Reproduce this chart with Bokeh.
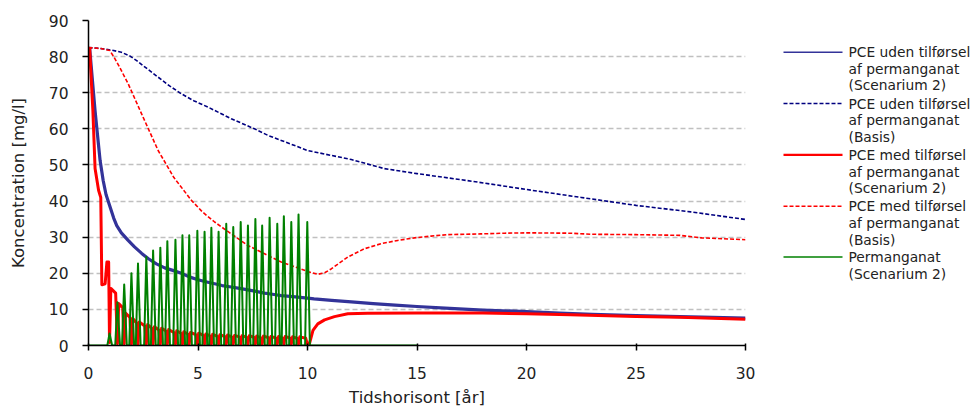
from bokeh.plotting import figure
from bokeh.models import Range1d, SingleIntervalTicker, ColumnDataSource
from bokeh.layouts import row
from bokeh.embed import file_html
from bokeh.resources import INLINE
from bokeh.core.properties import value

# ---------------- data ----------------
# PCE uden tilførsel af permanganat (Scenarium 2) - blue solid
blue_t = [0.05, 0.3, 0.53, 0.67, 0.8, 0.99, 1.15, 1.29, 1.5, 1.8, 2.1, 2.43, 2.72, 3.1, 3.48,
          3.85, 4.24, 4.6, 5.0, 5.4, 5.76, 6.1, 6.52, 6.9, 7.28, 7.65, 8.03, 8.4, 8.8,
          9.2, 9.56, 10.0, 10.3, 11.1, 12.0, 13.0, 14.0, 15.0, 16.5, 18.0, 20.0, 21.5,
          23.0, 25.0, 27.0, 28.5, 30.0]
blue_c = [82.5, 65.0, 51.2, 45.7, 41.8, 38.3, 35.3, 33.2, 31.2, 29.2, 27.3, 25.5, 24.1, 22.6, 21.5,
          20.8, 20.0, 19.0, 18.2, 17.6, 17.1, 16.6, 16.2, 15.8, 15.4, 15.0, 14.5, 14.2, 13.8,
          13.6, 13.4, 13.1, 12.9, 12.5, 12.1, 11.6, 11.2, 10.8, 10.3, 9.8, 9.4, 9.0,
          8.6, 8.3, 8.0, 7.8, 7.6]

# PCE uden tilførsel af permanganat (Basis) - blue dashed
blue_basis_t = [0.0, 0.5, 1.05, 1.5, 1.88, 2.2, 2.6, 3.18, 3.7, 4.24, 4.8, 5.46, 6.52, 7.58,
                8.19, 8.8, 10.0, 12.0, 13.5, 15.0, 17.5, 20.0, 22.5, 25.0, 27.5, 30.0]
blue_basis_c = [82.5, 82.3, 81.8, 81.2, 80.2, 78.9, 77.0, 74.3, 71.9, 69.7, 67.8, 66.0, 62.8, 60.0,
                58.2, 56.8, 54.0, 51.5, 49.0, 47.6, 45.5, 43.2, 41.0, 38.8, 37.0, 34.9]

# PCE med tilførsel af permanganat (Scenarium 2) - red solid
red_t = [0.05, 0.20, 0.30, 0.46, 0.56, 0.61, 0.76, 0.84, 0.92, 0.96,
         1.02, 1.24, 1.32, 1.38, 1.56, 1.63, 1.69, 1.89, 1.96, 2.02, 2.19, 2.26,
         2.32, 2.57, 2.64, 2.70, 2.88, 2.95, 3.01, 3.21, 3.28, 3.34, 3.53, 3.60,
         3.66, 3.90, 3.97, 4.03, 4.22, 4.29, 4.35, 4.53, 4.60, 4.66, 4.90, 4.97,
         5.03, 5.23, 5.30, 5.36, 5.54, 5.61, 5.67, 5.87, 5.94, 6.00, 6.22, 6.29,
         6.35, 6.54, 6.61, 6.67, 6.88, 6.95, 7.01, 7.21, 7.28, 7.34, 7.55, 7.62,
         7.68, 7.86, 7.93, 7.99, 8.20, 8.27, 8.33, 8.55, 8.62, 8.68, 8.85, 8.92,
         8.98, 9.19, 9.26, 9.32, 9.52, 9.59, 9.65, 9.92, 9.99,
         10.09, 10.25, 10.47, 10.78, 11.23, 11.84, 12.75, 15.0, 18.0, 20.0, 22.0,
         25.0, 27.0, 30.0]
red_c = [82.5, 65.0, 49.0, 43.0, 41.0, 16.8, 17.1, 23.1, 23.1, 0.8,
         15.8, 14.5, 0.5, 11.6, 10.5, 0.5, 9.0, 7.8, 0.4, 7.5, 6.3, 0.4,
         6.5, 5.4, 0.4, 5.8, 4.8, 0.4, 5.2, 4.3, 0.4, 4.8, 4.0, 0.4,
         4.4, 3.6, 0.4, 4.1, 3.4, 0.4, 3.8, 3.2, 0.4, 3.6, 3.0, 0.4,
         3.4, 2.9, 0.4, 3.2, 2.7, 0.4, 3.1, 2.6, 0.4, 3.0, 2.5, 0.4,
         2.9, 2.4, 0.4, 2.8, 2.4, 0.4, 2.7, 2.3, 0.4, 2.7, 2.3, 0.4,
         2.6, 2.2, 0.4, 2.6, 2.2, 0.4, 2.5, 2.1, 0.4, 2.5, 2.1, 0.4,
         2.5, 2.1, 0.4, 2.4, 2.0, 0.4, 2.4, 2.0, 0.4,
         0.5, 4.2, 6.0, 7.1, 8.0, 8.8, 8.9, 9.0, 9.0, 8.8, 8.5,
         8.0, 7.8, 7.3]

# PCE med tilførsel af permanganat (Basis) - red dashed
red_basis_t = [0.0, 0.6, 0.97, 1.15, 1.4, 1.81, 2.42, 3.18, 3.9, 4.7, 5.2, 5.76, 6.52, 7.28, 8.04,
               8.8, 9.56, 10.0, 10.47, 10.8, 11.08, 11.84, 12.6, 13.36, 14.12, 14.88, 15.64,
               16.4, 17.9, 19.0, 20.0, 22.0, 23.0, 25.0, 27.0, 28.0, 30.0]
red_basis_c = [82.5, 82.2, 81.7, 80.0, 77.3, 72.5, 64.2, 54.0, 46.5, 40.2, 37.0, 34.2, 30.9, 27.7, 25.4,
               23.1, 21.5, 20.5, 19.7, 20.2, 21.2, 24.5, 26.8, 28.2, 29.1, 29.8, 30.3,
               30.7, 30.9, 31.1, 31.2, 31.1, 30.8, 30.7, 30.5, 29.8, 29.3]

# Permanganat (Scenarium 2) - green pulses: peak times and peak concentrations
green_peak_t = [0.96, 1.32, 1.63, 1.96, 2.26, 2.64, 2.95, 3.28, 3.60, 3.97, 4.29, 4.60, 4.97,
                5.30, 5.61, 5.94, 6.29, 6.61, 6.95, 7.28, 7.62, 7.93, 8.27, 8.62, 8.92, 9.26,
                9.59, 9.99]
green_peak_c = [3.3, 12.0, 16.9, 20.0, 22.7, 24.5, 26.3, 27.1, 28.9, 29.3, 30.5, 30.5, 31.8,
                31.5, 32.6, 31.5, 33.7, 32.8, 34.2, 33.2, 35.0, 33.2, 35.4, 33.7, 35.8, 34.2,
                36.3, 34.2]
green_end_t = 15.0

legend_labels = [
    "PCE uden tilførsel\naf permanganat\n(Scenarium 2)",
    "PCE uden tilførsel\naf permanganat\n(Basis)",
    "PCE med tilførsel\naf permanganat\n(Scenarium 2)",
    "PCE med tilførsel\naf permanganat\n(Basis)",
    "Permanganat\n(Scenarium 2)",
]

x_label = "Tidshorisont [år]"
y_label = "Koncentration [mg/l]"

# ---------------- build green pulse polyline from the peaks ----------------
green_t = [0.0]
green_c = [0.0]
for t, c in zip(green_peak_t, green_peak_c):
    green_t += [t - 0.10, t, t + 0.12]
    green_c += [0.0, c, 0.0]
green_t.append(green_end_t)
green_c.append(0.0)

FONT = "DejaVu Sans"
H = 411

# ---------------- main figure ----------------
p = figure(width=765, height=H, x_range=Range1d(0, 30), y_range=Range1d(0, 90),
           output_backend="svg", toolbar_location=None,
           min_border_left=88, min_border_right=20, min_border_top=20,
           min_border_bottom=H - 20 - 325)
p.outline_line_color = None
p.background_fill_color = "white"
p.border_fill_color = "white"

p.xaxis.ticker = SingleIntervalTicker(interval=5)
p.yaxis.ticker = SingleIntervalTicker(interval=10)
p.xgrid.grid_line_color = None
p.ygrid.grid_line_color = "#c0c0c0"
p.ygrid.grid_line_dash = "5 3"
p.ygrid.grid_line_width = 1.5

for ax in (p.xaxis, p.yaxis):
    ax.axis_line_color = "black"
    ax.axis_line_width = 1.5
    ax.major_tick_line_color = "black"
    ax.major_tick_line_width = 1.5
    ax.minor_tick_line_color = None
    ax.major_label_text_font = FONT
    ax.major_label_text_font_size = "15.5px"
    ax.major_label_text_color = "#222222"
    ax.axis_label_text_font = FONT
    ax.axis_label_text_font_size = "16.5px"
    ax.axis_label_text_font_style = "normal"
    ax.axis_label_text_color = "#222222"

p.xaxis.major_tick_in = 2
p.xaxis.major_tick_out = 5
p.xaxis.major_label_standoff = 16
p.xaxis.axis_label_standoff = 6
p.xaxis.axis_label = x_label

p.yaxis.major_tick_in = 0
p.yaxis.major_tick_out = 6
p.yaxis.major_label_standoff = 14
p.yaxis.axis_label_standoff = 18
p.yaxis.axis_label = y_label

styles = [
    dict(color="#333399", width=3.2, dash="solid"),
    dict(color="#000080", width=1.6, dash="4 2"),
    dict(color="#ff0000", width=3.0, dash="solid"),
    dict(color="#ff0000", width=1.6, dash="4 2"),
    dict(color="#008000", width=2.0, dash="solid"),
]
series = [(blue_t, blue_c), (blue_basis_t, blue_basis_c), (red_t, red_c),
          (red_basis_t, red_basis_c), (green_t, green_c)]

for (xs, ys), st in zip(series, styles):
    p.line(xs, ys, line_color=st["color"], line_width=st["width"], line_dash=st["dash"],
           line_join="round")

# ---------------- legend panel ----------------
LW = 206
lg = figure(width=LW, height=H, x_range=Range1d(0, LW), y_range=Range1d(H, 0),
            output_backend="svg", toolbar_location=None,
            min_border=0, min_border_left=0, min_border_right=0,
            min_border_top=0, min_border_bottom=0)
lg.axis.visible = False
lg.grid.visible = False
lg.outline_line_color = None
lg.background_fill_color = "white"
lg.border_fill_color = "white"

legend_first_y = [40, 105, 170, 235, 299]
line_gap = 21
legend_line_w = [1.5, 1.5, 2.2, 1.5, 1.6]
for lab, st, y0, lw in zip(legend_labels, styles, legend_first_y, legend_line_w):
    lg.line([18, 77], [y0, y0], line_color=st["color"], line_width=lw, line_dash=st["dash"])
    lines = lab.split("\n")
    src = ColumnDataSource(dict(x=[83] * len(lines),
                                y=[y0 + i * line_gap for i in range(len(lines))],
                                t=lines))
    lg.text(x="x", y="y", text="t", source=src, text_font=value(FONT),
            text_font_size="13.8px", text_baseline="middle", text_align="left",
            text_color="#222222")

layout = row(p, lg)
open("out.html", "w").write(file_html(layout, INLINE))
